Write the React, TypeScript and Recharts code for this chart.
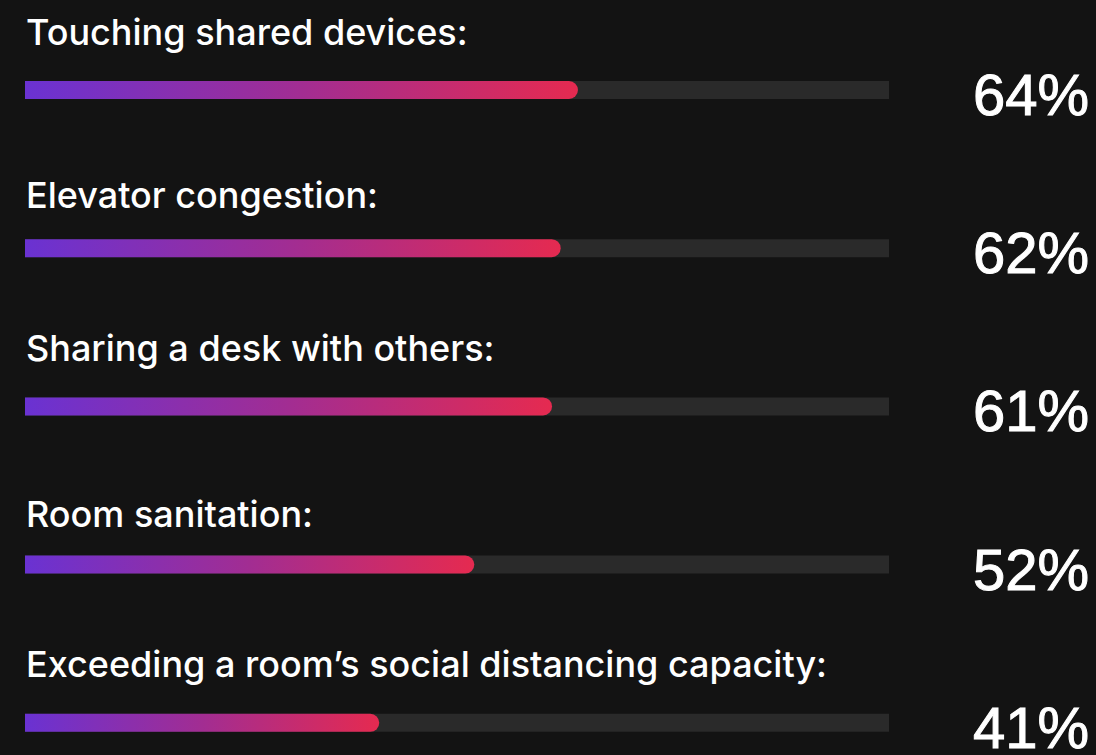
import { Bar, BarChart, LabelList, XAxis, YAxis } from "recharts";

const categories = [
  "Touching shared devices:",
  "Elevator congestion:",
  "Sharing a desk with others:",
  "Room sanitation:",
  "Exceeding a room\u2019s social distancing capacity:",
];

const shares = [64, 62, 61, 52, 41];

const chartData = categories.map((name, i) => ({ name, share: shares[i] }));

// gap between each caption's baseline and the top of its bar (layout only)
const captionGaps = [36, 31, 36, 29, 37];

const FONT = "Inter, 'Liberation Sans', Arial, sans-serif";
const NUM_FONT = "'Liberation Sans', Arial, sans-serif";

function CategoryLabel(props: any) {
  const { x, y, value, index } = props;
  const gap = captionGaps[index] ?? 36;
  return (
    <text
      x={x + 1}
      y={y - gap}
      fill="#ffffff"
      fontFamily={FONT}
      fontWeight={500}
      fontSize={36}
    >
      {value}
    </text>
  );
}

function ShareLabel(props: any) {
  const { y, height, value } = props;
  return (
    <text
      x={1089}
      y={y + height / 2 + 25}
      fill="#ffffff"
      stroke="#ffffff"
      strokeWidth={1}
      textAnchor="end"
      fontFamily={NUM_FONT}
      fontSize={58}
    >
      {value}%
    </text>
  );
}

export default function App() {
  return (
    <div
      style={{
        position: "absolute",
        left: 0,
        top: 0,
        width: 1096,
        height: 755,
        overflow: "hidden",
        background: "#131313",
      }}
    >
      <BarChart
        width={1096}
        height={802}
        data={chartData}
        layout="vertical"
        margin={{ top: 11, right: 207, bottom: 0, left: 25 }}
      >
        <defs>
          <linearGradient id="barFill" x1="0" y1="0" x2="1" y2="0">
            <stop offset="0%" stopColor="#6a32d2" />
            <stop offset="50%" stopColor="#a22d92" />
            <stop offset="100%" stopColor="#e52a50" />
          </linearGradient>
        </defs>
        <XAxis type="number" domain={[0, 100]} hide />
        <YAxis type="category" dataKey="name" hide />
        <Bar
          dataKey="share"
          barSize={18}
          fill="url(#barFill)"
          radius={[0, 9, 9, 0]}
          background={{ fill: "#2a2a2a", radius: 0 } as any}
          isAnimationActive={false}
        >
          <LabelList dataKey="name" content={<CategoryLabel />} />
          <LabelList dataKey="share" content={<ShareLabel />} />
        </Bar>
      </BarChart>
    </div>
  );
}
